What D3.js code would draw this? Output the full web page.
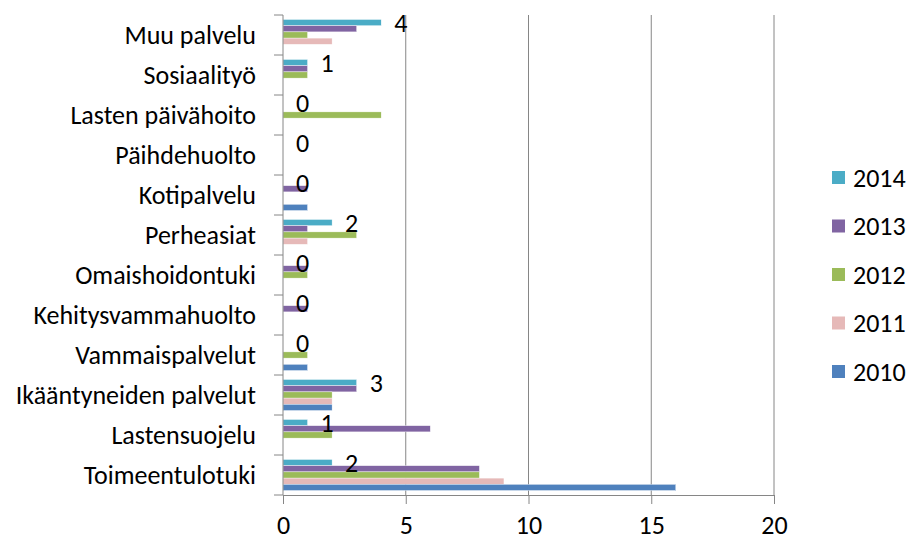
<!DOCTYPE html>
<html lang="en">
<head>
  <meta charset="UTF-8" />
  <title>Palautteet palveluittain</title>
  <script src="https://d3js.org/d3.v7.min.js"></script>
  <style>
    body { margin: 0; background: #fff; }
    text { font-family: Carlito, Calibri, Lato, sans-serif; fill: #000; }
  </style>
</head>
<body>
<script type="text/javascript">

// kategoriat ylhäältä alas
var categories = ["Muu palvelu", "Sosiaalityö", "Lasten päivähoito", "Päihdehuolto",
  "Kotipalvelu", "Perheasiat", "Omaishoidontuki", "Kehitysvammahuolto",
  "Vammaispalvelut", "Ikääntyneiden palvelut", "Lastensuojelu", "Toimeentulotuki"];

var years = ["2014", "2013", "2012", "2011", "2010"];

// arvot samassa järjestyksessä kuin categories
var v2014 = [4, 1, 0, 0, 0, 2, 0, 0, 0, 3, 1, 2];
var v2013 = [3, 1, 0, 0, 1, 1, 1, 1, 0, 3, 6, 8];
var v2012 = [1, 1, 4, 0, 0, 3, 1, 0, 1, 2, 2, 8];
var v2011 = [2, 0, 0, 0, 0, 1, 0, 0, 0, 2, 0, 9];
var v2010 = [0, 0, 0, 0, 1, 0, 0, 0, 1, 2, 0, 16];

var xTicks = [0, 5, 10, 15, 20];
var colors = ["#4BACC6", "#8064A2", "#9BBB59", "#E6B9B8", "#4F81BD"];

var series = [v2014, v2013, v2012, v2011, v2010];

var width = 909, height = 540;
var fs = 26;

var svg = d3.select("body").append("svg").attr("width", width).attr("height", height);

var x = d3.scaleLinear().domain([0, 20]).range([283, 774]);
var y = d3.scaleBand().domain(categories).range([15, 495]);
var yy = d3.scaleBand().domain(years).range([0, y.bandwidth()]).paddingOuter(0.72);

// gridlines
svg.append("g").selectAll("line").data(xTicks.slice(1)).enter().append("line")
  .attr("x1", function(d) { return x(d); }).attr("x2", function(d) { return x(d); })
  .attr("y1", 15).attr("y2", 495)
  .attr("stroke", "#868686").attr("stroke-width", 1);

// bars
var groups = svg.append("g").selectAll("g").data(categories).enter().append("g")
  .attr("transform", function(d) { return "translate(0," + y(d) + ")"; });

groups.selectAll("rect")
  .data(function(c, i) { return years.map(function(yr, k) { return { year: yr, value: series[k][i], k: k }; }); })
  .enter().append("rect")
  .attr("x", x(0))
  .attr("y", function(d) { return yy(d.year); })
  .attr("width", function(d) { return x(d.value) - x(0); })
  .attr("height", yy.bandwidth())
  .attr("fill", function(d) { return colors[d.k]; })
  .attr("stroke", "#fff").attr("stroke-width", 0.4);

// data labels (2014)
groups.append("text")
  .attr("x", function(c, i) { return x(v2014[i]) + 13; })
  .attr("y", function() { return yy("2014") + yy.bandwidth() / 2 + 9; })
  .attr("font-size", fs)
  .text(function(c, i) { return v2014[i]; });

// x axis
var xAxis = svg.append("g").attr("transform", "translate(0,495)")
  .call(d3.axisBottom(x).tickValues(xTicks).tickSize(9).tickPadding(12));
xAxis.select(".domain").attr("stroke", "#868686");
xAxis.selectAll(".tick line").attr("stroke", "#868686");
xAxis.selectAll("text").attr("font-size", fs).attr("font-family", null);

// y axis
var yAxis = svg.append("g").attr("transform", "translate(283,0)")
  .call(d3.axisLeft(y).tickSize(0).tickPadding(27));
yAxis.select(".domain").attr("stroke", "#868686").attr("d", "M0,15V495");
yAxis.selectAll("text").attr("font-size", fs).attr("font-family", null).attr("dy", "0.34em");
yAxis.selectAll(".bt").data(y.domain().concat([null])).enter().append("line")
  .attr("x1", -9).attr("x2", 0)
  .attr("y1", function(d) { return d === null ? 495 : y(d); })
  .attr("y2", function(d) { return d === null ? 495 : y(d); })
  .attr("stroke", "#868686");

// legend
var legend = svg.append("g").selectAll("g").data(years).enter().append("g")
  .attr("transform", function(d, i) { return "translate(832," + (171 + i * 48.5) + ")"; });
legend.append("rect").attr("width", 13).attr("height", 13)
  .attr("fill", function(d, i) { return colors[i]; });
legend.append("text").attr("x", 21).attr("y", 15.5).attr("font-size", fs)
  .text(function(d) { return d; });

</script>
</body>
</html>
